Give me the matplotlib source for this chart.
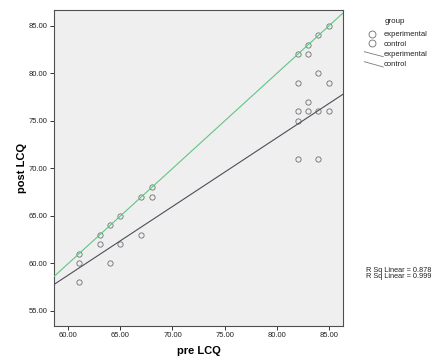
import matplotlib
matplotlib.use("Agg")
import matplotlib.pyplot as plt
from matplotlib.lines import Line2D
import numpy as np

plt.rcParams['font.family'] = ['Liberation Sans', 'DejaVu Sans']

# ---- data ----
exp_pre = [61, 63, 64, 65, 67, 68, 82, 83, 84, 85]
exp_post = [61, 63, 64, 65, 67, 68, 82, 83, 84, 85]
ctrl_pre = [61, 61, 63, 64, 65, 67, 68, 82, 82, 82, 82, 83, 83, 83, 84, 84, 84, 85, 85]
ctrl_post = [60, 58, 62, 60, 62, 63, 67, 79, 76, 75, 71, 82, 77, 76, 80, 76, 71, 79, 76]
# fit lines (slope, intercept)
exp_fit = [1.0, 0.0]
ctrl_fit = [0.722, 15.46]
r2_labels = ["R Sq Linear = 0.878", "R Sq Linear = 0.999"]
legend_labels = ["experimental", "control"]
x_ticks = [60, 65, 70, 75, 80, 85]
y_ticks = [55, 60, 65, 70, 75, 80, 85]

W, H = 432, 361
fig = plt.figure(figsize=(W / 100, H / 100), dpi=100)
fig.patch.set_facecolor('white')

def fx(px):
    return px / W

def fy(py):
    return 1 - py / H

ax = fig.add_axes([fx(54), fy(326), (343 - 54) / W, (326 - 10) / H])
ax.set_facecolor('#efefef')
xlim = (58.63, 86.36)
ylim = (53.42, 86.68)
ax.set_xlim(*xlim)
ax.set_ylim(*ylim)

marker_col = '#6e6e6e'
ax.plot(ctrl_pre, ctrl_post, linestyle='none', marker='o', markersize=3.8,
        markerfacecolor='none', markeredgecolor=marker_col, markeredgewidth=0.6, zorder=3)
ax.plot(exp_pre, exp_post, linestyle='none', marker='o', markersize=3.8,
        markerfacecolor='none', markeredgecolor='#5b7d68', markeredgewidth=0.6, zorder=3)

xs = np.array(xlim)
ax.plot(xs, ctrl_fit[0] * xs + ctrl_fit[1], color='#4d4d5c', linewidth=0.8, zorder=4)
ax.plot(xs, exp_fit[0] * xs + exp_fit[1], color='#62c486', linewidth=0.8, zorder=4)

ax.set_xticks(x_ticks)
ax.set_xticklabels([f"{v:.2f}" for v in x_ticks])
ax.set_yticks(y_ticks)
ax.set_yticklabels([f"{v:.2f}" for v in y_ticks])
ax.tick_params(axis='both', direction='out', length=3, width=0.7, colors='#333333',
               labelsize=5.5, pad=1.5, labelcolor='#222222')
for s in ax.spines.values():
    s.set_color('#505050')
    s.set_linewidth(0.8)

ax.set_xlabel('pre LCQ', fontsize=8, fontweight='bold', labelpad=5)
ax.set_ylabel('post LCQ', fontsize=8, fontweight='bold', labelpad=1.5)

# ---- legend drawn at figure level ----
fig.text(fx(385), fy(21.7), 'group', fontsize=5.8, va='center', ha='left', color='#222222')
fig.add_artist(Line2D([fx(372.3)], [fy(33.5)], marker='o', markersize=5,
                      markerfacecolor='none', markeredgecolor=marker_col, markeredgewidth=0.6,
                      linestyle='none', transform=fig.transFigure))
fig.add_artist(Line2D([fx(372.3)], [fy(43.3)], marker='o', markersize=5,
                      markerfacecolor='none', markeredgecolor=marker_col, markeredgewidth=0.6,
                      linestyle='none', transform=fig.transFigure))
fig.text(fx(384), fy(34), legend_labels[0], fontsize=5.5, va='center', ha='left', color='#222222')
fig.text(fx(384), fy(44), legend_labels[1], fontsize=5.5, va='center', ha='left', color='#222222')
fig.add_artist(Line2D([fx(364.3), fx(383.3)], [fy(51.7), fy(56.7)], color='#7a7a7a',
                      linewidth=0.6, transform=fig.transFigure))
fig.add_artist(Line2D([fx(364.3), fx(383.3)], [fy(61.7), fy(67.0)], color='#7a7a7a',
                      linewidth=0.6, transform=fig.transFigure))
fig.text(fx(384), fy(54.5), legend_labels[0], fontsize=5.5, va='center', ha='left', color='#222222')
fig.text(fx(384), fy(64.5), legend_labels[1], fontsize=5.5, va='center', ha='left', color='#222222')

fig.text(fx(366), fy(271), r2_labels[0], fontsize=5.3, va='center', ha='left', color='#222222')
fig.text(fx(366), fy(276.7), r2_labels[1], fontsize=5.3, va='center', ha='left', color='#222222')

fig.savefig('out.png', dpi=100, facecolor='white')
